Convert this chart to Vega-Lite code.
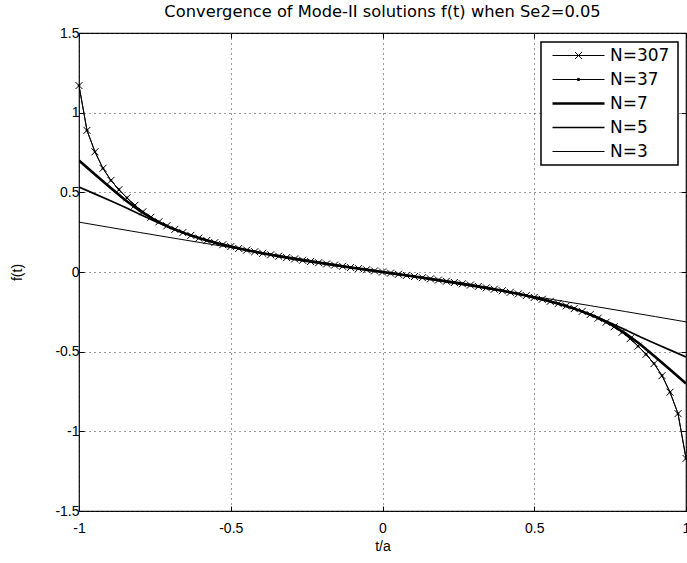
{
  "$schema": "https://vega.github.io/schema/vega-lite/v6.json",
  "width": 607,
  "height": 478,
  "autosize": "none",
  "padding": {"left": 79, "top": 33, "right": 1, "bottom": 52},
  "background": "white",
  "title": {"text": "Convergence of Mode-II solutions f(t) when Se2=0.05", "fontSize": 16.3, "font": "DejaVu Sans", "fontWeight": "normal", "color": "black", "anchor": "middle", "offset": 6},
  "config": {
    "view": {"stroke": "black", "strokeWidth": 1.2},
    "axis": {"labelFont": "Liberation Sans", "titleFont": "Liberation Sans", "labelFontSize": 14, "titleFontSize": 14, "titleFontWeight": "normal", "labelColor": "black", "titleColor": "black", "domain": false, "tickColor": "black", "tickSize": -5, "tickWidth": 1}
  },
  "data": {"values": [
    {"s":"N=307","t":-1,"f":1.17},{"s":"N=307","t":-0.9737,"f":0.889},{"s":"N=307","t":-0.9474,"f":0.7545},{"s":"N=307","t":-0.9211,"f":0.6505},{"s":"N=307","t":-0.8947,"f":0.5749},{"s":"N=307","t":-0.8684,"f":0.5166},{"s":"N=307","t":-0.8421,"f":0.4653},{"s":"N=307","t":-0.8158,"f":0.4189},{"s":"N=307","t":-0.7895,"f":0.3781},{"s":"N=307","t":-0.7632,"f":0.3437},{"s":"N=307","t":-0.7368,"f":0.315},{"s":"N=307","t":-0.7105,"f":0.2898},{"s":"N=307","t":-0.6842,"f":0.2674},{"s":"N=307","t":-0.6579,"f":0.2472},{"s":"N=307","t":-0.6316,"f":0.2297},{"s":"N=307","t":-0.6053,"f":0.2129},{"s":"N=307","t":-0.5789,"f":0.1981},{"s":"N=307","t":-0.5526,"f":0.1843},{"s":"N=307","t":-0.5263,"f":0.1715},{"s":"N=307","t":-0.5,"f":0.1594},{"s":"N=307","t":-0.4737,"f":0.1479},{"s":"N=307","t":-0.4474,"f":0.1376},{"s":"N=307","t":-0.4211,"f":0.1272},{"s":"N=307","t":-0.3947,"f":0.1177},{"s":"N=307","t":-0.3684,"f":0.1082},{"s":"N=307","t":-0.3421,"f":0.0994},{"s":"N=307","t":-0.3158,"f":0.0905},{"s":"N=307","t":-0.2895,"f":0.082},{"s":"N=307","t":-0.2632,"f":0.0737},{"s":"N=307","t":-0.2368,"f":0.0658},{"s":"N=307","t":-0.2105,"f":0.0581},{"s":"N=307","t":-0.1842,"f":0.0506},{"s":"N=307","t":-0.1579,"f":0.0432},{"s":"N=307","t":-0.1316,"f":0.0358},{"s":"N=307","t":-0.1053,"f":0.0286},{"s":"N=307","t":-0.0789,"f":0.0214},{"s":"N=307","t":-0.0526,"f":0.0142},{"s":"N=307","t":-0.0263,"f":0.0071},
    {"s":"N=307","t":0,"f":0},
    {"s":"N=307","t":0.0263,"f":-0.0071},{"s":"N=307","t":0.0526,"f":-0.0142},{"s":"N=307","t":0.0789,"f":-0.0214},{"s":"N=307","t":0.1053,"f":-0.0286},{"s":"N=307","t":0.1316,"f":-0.0358},{"s":"N=307","t":0.1579,"f":-0.0432},{"s":"N=307","t":0.1842,"f":-0.0506},{"s":"N=307","t":0.2105,"f":-0.0581},{"s":"N=307","t":0.2368,"f":-0.0658},{"s":"N=307","t":0.2632,"f":-0.0737},{"s":"N=307","t":0.2895,"f":-0.082},{"s":"N=307","t":0.3158,"f":-0.0905},{"s":"N=307","t":0.3421,"f":-0.0994},{"s":"N=307","t":0.3684,"f":-0.1082},{"s":"N=307","t":0.3947,"f":-0.1177},{"s":"N=307","t":0.4211,"f":-0.1272},{"s":"N=307","t":0.4474,"f":-0.1376},{"s":"N=307","t":0.4737,"f":-0.1479},{"s":"N=307","t":0.5,"f":-0.1594},{"s":"N=307","t":0.5263,"f":-0.1715},{"s":"N=307","t":0.5526,"f":-0.1843},{"s":"N=307","t":0.5789,"f":-0.1981},{"s":"N=307","t":0.6053,"f":-0.2129},{"s":"N=307","t":0.6316,"f":-0.2297},{"s":"N=307","t":0.6579,"f":-0.2472},{"s":"N=307","t":0.6842,"f":-0.2674},{"s":"N=307","t":0.7105,"f":-0.2898},{"s":"N=307","t":0.7368,"f":-0.315},{"s":"N=307","t":0.7632,"f":-0.3437},{"s":"N=307","t":0.7895,"f":-0.3781},{"s":"N=307","t":0.8158,"f":-0.4189},{"s":"N=307","t":0.8421,"f":-0.4653},{"s":"N=307","t":0.8684,"f":-0.5166},{"s":"N=307","t":0.8947,"f":-0.5749},{"s":"N=307","t":0.9211,"f":-0.6505},{"s":"N=307","t":0.9474,"f":-0.7545},{"s":"N=307","t":0.9737,"f":-0.889},{"s":"N=307","t":1,"f":-1.17},

    {"s":"N=37","t":-1,"f":1.17},{"s":"N=37","t":-0.9737,"f":0.889},{"s":"N=37","t":-0.9474,"f":0.7545},{"s":"N=37","t":-0.9211,"f":0.6505},{"s":"N=37","t":-0.8947,"f":0.5749},{"s":"N=37","t":-0.8684,"f":0.5166},{"s":"N=37","t":-0.8421,"f":0.4653},{"s":"N=37","t":-0.8158,"f":0.4189},{"s":"N=37","t":-0.7895,"f":0.3781},{"s":"N=37","t":-0.7632,"f":0.3437},{"s":"N=37","t":-0.7368,"f":0.315},{"s":"N=37","t":-0.7105,"f":0.2898},{"s":"N=37","t":-0.6842,"f":0.2674},{"s":"N=37","t":-0.6579,"f":0.2472},{"s":"N=37","t":-0.6316,"f":0.2297},{"s":"N=37","t":-0.6053,"f":0.2129},{"s":"N=37","t":-0.5789,"f":0.1981},{"s":"N=37","t":-0.5526,"f":0.1843},{"s":"N=37","t":-0.5263,"f":0.1715},{"s":"N=37","t":-0.5,"f":0.1594},{"s":"N=37","t":-0.4737,"f":0.1479},{"s":"N=37","t":-0.4474,"f":0.1376},{"s":"N=37","t":-0.4211,"f":0.1272},{"s":"N=37","t":-0.3947,"f":0.1177},{"s":"N=37","t":-0.3684,"f":0.1082},{"s":"N=37","t":-0.3421,"f":0.0994},{"s":"N=37","t":-0.3158,"f":0.0905},{"s":"N=37","t":-0.2895,"f":0.082},{"s":"N=37","t":-0.2632,"f":0.0737},{"s":"N=37","t":-0.2368,"f":0.0658},{"s":"N=37","t":-0.2105,"f":0.0581},{"s":"N=37","t":-0.1842,"f":0.0506},{"s":"N=37","t":-0.1579,"f":0.0432},{"s":"N=37","t":-0.1316,"f":0.0358},{"s":"N=37","t":-0.1053,"f":0.0286},{"s":"N=37","t":-0.0789,"f":0.0214},{"s":"N=37","t":-0.0526,"f":0.0142},{"s":"N=37","t":-0.0263,"f":0.0071},
    {"s":"N=37","t":0,"f":0},
    {"s":"N=37","t":0.0263,"f":-0.0071},{"s":"N=37","t":0.0526,"f":-0.0142},{"s":"N=37","t":0.0789,"f":-0.0214},{"s":"N=37","t":0.1053,"f":-0.0286},{"s":"N=37","t":0.1316,"f":-0.0358},{"s":"N=37","t":0.1579,"f":-0.0432},{"s":"N=37","t":0.1842,"f":-0.0506},{"s":"N=37","t":0.2105,"f":-0.0581},{"s":"N=37","t":0.2368,"f":-0.0658},{"s":"N=37","t":0.2632,"f":-0.0737},{"s":"N=37","t":0.2895,"f":-0.082},{"s":"N=37","t":0.3158,"f":-0.0905},{"s":"N=37","t":0.3421,"f":-0.0994},{"s":"N=37","t":0.3684,"f":-0.1082},{"s":"N=37","t":0.3947,"f":-0.1177},{"s":"N=37","t":0.4211,"f":-0.1272},{"s":"N=37","t":0.4474,"f":-0.1376},{"s":"N=37","t":0.4737,"f":-0.1479},{"s":"N=37","t":0.5,"f":-0.1594},{"s":"N=37","t":0.5263,"f":-0.1715},{"s":"N=37","t":0.5526,"f":-0.1843},{"s":"N=37","t":0.5789,"f":-0.1981},{"s":"N=37","t":0.6053,"f":-0.2129},{"s":"N=37","t":0.6316,"f":-0.2297},{"s":"N=37","t":0.6579,"f":-0.2472},{"s":"N=37","t":0.6842,"f":-0.2674},{"s":"N=37","t":0.7105,"f":-0.2898},{"s":"N=37","t":0.7368,"f":-0.315},{"s":"N=37","t":0.7632,"f":-0.3437},{"s":"N=37","t":0.7895,"f":-0.3781},{"s":"N=37","t":0.8158,"f":-0.4189},{"s":"N=37","t":0.8421,"f":-0.4653},{"s":"N=37","t":0.8684,"f":-0.5166},{"s":"N=37","t":0.8947,"f":-0.5749},{"s":"N=37","t":0.9211,"f":-0.6505},{"s":"N=37","t":0.9474,"f":-0.7545},{"s":"N=37","t":0.9737,"f":-0.889},{"s":"N=37","t":1,"f":-1.17},

    {"s":"N=7","t":-1,"f":0.70},{"s":"N=7","t":-0.95,"f":0.617},{"s":"N=7","t":-0.9,"f":0.535},{"s":"N=7","t":-0.85,"f":0.455},{"s":"N=7","t":-0.8,"f":0.385},{"s":"N=7","t":-0.75,"f":0.325},{"s":"N=7","t":-0.7,"f":0.2795},{"s":"N=7","t":-0.65,"f":0.2425},{"s":"N=7","t":-0.6,"f":0.2108},{"s":"N=7","t":-0.55,"f":0.1831},{"s":"N=7","t":-0.5,"f":0.1594},{"s":"N=7","t":-0.45,"f":0.1386},{"s":"N=7","t":-0.4,"f":0.1191},{"s":"N=7","t":-0.35,"f":0.1016},{"s":"N=7","t":-0.3,"f":0.0852},{"s":"N=7","t":-0.25,"f":0.0697},{"s":"N=7","t":-0.2,"f":0.0551},{"s":"N=7","t":-0.15,"f":0.041},{"s":"N=7","t":-0.1,"f":0.0271},{"s":"N=7","t":-0.05,"f":0.0135},
    {"s":"N=7","t":0,"f":0},
    {"s":"N=7","t":0.05,"f":-0.0135},{"s":"N=7","t":0.1,"f":-0.0271},{"s":"N=7","t":0.15,"f":-0.041},{"s":"N=7","t":0.2,"f":-0.0551},{"s":"N=7","t":0.25,"f":-0.0697},{"s":"N=7","t":0.3,"f":-0.0852},{"s":"N=7","t":0.35,"f":-0.1016},{"s":"N=7","t":0.4,"f":-0.1191},{"s":"N=7","t":0.45,"f":-0.1386},{"s":"N=7","t":0.5,"f":-0.1594},{"s":"N=7","t":0.55,"f":-0.1831},{"s":"N=7","t":0.6,"f":-0.2108},{"s":"N=7","t":0.65,"f":-0.2425},{"s":"N=7","t":0.7,"f":-0.2795},{"s":"N=7","t":0.75,"f":-0.325},{"s":"N=7","t":0.8,"f":-0.385},{"s":"N=7","t":0.85,"f":-0.455},{"s":"N=7","t":0.9,"f":-0.535},{"s":"N=7","t":0.95,"f":-0.617},{"s":"N=7","t":1,"f":-0.70},

    {"s":"N=5","t":-1,"f":0.533},{"s":"N=5","t":-0.95,"f":0.492},{"s":"N=5","t":-0.9,"f":0.45},{"s":"N=5","t":-0.85,"f":0.408},{"s":"N=5","t":-0.8,"f":0.362},{"s":"N=5","t":-0.75,"f":0.318},{"s":"N=5","t":-0.7,"f":0.278},{"s":"N=5","t":-0.65,"f":0.2415},{"s":"N=5","t":-0.6,"f":0.2108},{"s":"N=5","t":-0.55,"f":0.1831},{"s":"N=5","t":-0.5,"f":0.1594},{"s":"N=5","t":-0.45,"f":0.1386},{"s":"N=5","t":-0.4,"f":0.1191},{"s":"N=5","t":-0.35,"f":0.1016},{"s":"N=5","t":-0.3,"f":0.0852},{"s":"N=5","t":-0.25,"f":0.0697},{"s":"N=5","t":-0.2,"f":0.0551},{"s":"N=5","t":-0.15,"f":0.041},{"s":"N=5","t":-0.1,"f":0.0271},{"s":"N=5","t":-0.05,"f":0.0135},
    {"s":"N=5","t":0,"f":0},
    {"s":"N=5","t":0.05,"f":-0.0135},{"s":"N=5","t":0.1,"f":-0.0271},{"s":"N=5","t":0.15,"f":-0.041},{"s":"N=5","t":0.2,"f":-0.0551},{"s":"N=5","t":0.25,"f":-0.0697},{"s":"N=5","t":0.3,"f":-0.0852},{"s":"N=5","t":0.35,"f":-0.1016},{"s":"N=5","t":0.4,"f":-0.1191},{"s":"N=5","t":0.45,"f":-0.1386},{"s":"N=5","t":0.5,"f":-0.1594},{"s":"N=5","t":0.55,"f":-0.1831},{"s":"N=5","t":0.6,"f":-0.2108},{"s":"N=5","t":0.65,"f":-0.2415},{"s":"N=5","t":0.7,"f":-0.278},{"s":"N=5","t":0.75,"f":-0.318},{"s":"N=5","t":0.8,"f":-0.362},{"s":"N=5","t":0.85,"f":-0.408},{"s":"N=5","t":0.9,"f":-0.45},{"s":"N=5","t":0.95,"f":-0.492},{"s":"N=5","t":1,"f":-0.533},

    {"s":"N=3","t":-1,"f":0.313},{"s":"N=3","t":-0.9,"f":0.2803},{"s":"N=3","t":-0.8,"f":0.2481},{"s":"N=3","t":-0.7,"f":0.2162},{"s":"N=3","t":-0.6,"f":0.1847},{"s":"N=3","t":-0.5,"f":0.1535},{"s":"N=3","t":-0.4,"f":0.1225},{"s":"N=3","t":-0.3,"f":0.0917},{"s":"N=3","t":-0.2,"f":0.0611},{"s":"N=3","t":-0.1,"f":0.0305},
    {"s":"N=3","t":0,"f":0},
    {"s":"N=3","t":0.1,"f":-0.0305},{"s":"N=3","t":0.2,"f":-0.0611},{"s":"N=3","t":0.3,"f":-0.0917},{"s":"N=3","t":0.4,"f":-0.1225},{"s":"N=3","t":0.5,"f":-0.1535},{"s":"N=3","t":0.6,"f":-0.1847},{"s":"N=3","t":0.7,"f":-0.2162},{"s":"N=3","t":0.8,"f":-0.2481},{"s":"N=3","t":0.9,"f":-0.2803},{"s":"N=3","t":1,"f":-0.313}
  ]},
  "layer": [
    {
      "mark": {"type": "line", "clip": true, "color": "black"},
      "encoding": {
        "x": {"field": "t", "type": "quantitative", "scale": {"domain": [-1, 1], "nice": false, "zero": false},
              "axis": {"orient": "bottom", "values": [-1, -0.5, 0, 0.5, 1], "labelExpr": "'' + datum.value", "title": "t/a", "grid": true, "gridColor": "#333", "gridDash": [1, 4], "gridWidth": 1, "labelFlush": false, "labelPadding": 15, "titlePadding": 4}},
        "y": {"field": "f", "type": "quantitative", "scale": {"domain": [-1.5, 1.5], "nice": false, "zero": false},
              "axis": {"orient": "left", "values": [-1.5, -1, -0.5, 0, 0.5, 1, 1.5], "labelExpr": "'' + datum.value", "title": "f(t)", "grid": true, "gridColor": "#333", "gridDash": [1, 4], "gridWidth": 1, "labelFlush": false, "labelPadding": 5, "titlePadding": 30}},
        "detail": {"field": "s", "type": "nominal"},
        "strokeWidth": {"field": "s", "type": "nominal",
                  "scale": {"type": "ordinal", "domain": ["N=307", "N=37", "N=7", "N=5", "N=3"], "range": [1, 1, 2.6, 1.7, 1]},
                  "legend": {"title": " ", "titleOrient": "right", "titlePadding": 4, "titleFont": "DejaVu Sans", "titleFontSize": 17,
                             "orient": "none", "legendX": 462, "legendY": 9, "strokeColor": "black", "fillColor": "white", "padding": 5, "cornerRadius": 0,
                             "labelFont": "DejaVu Sans", "labelFontSize": 17, "labelColor": "black", "labelOffset": 47, "rowPadding": 6,
                             "symbolType": "stroke", "symbolSize": 196, "symbolStrokeColor": "black",
                             "encode": {
                               "legend": {"update": {"strokeWidth": {"value": 1.5}}},
                               "symbols": {"update": {
                               "shape": {"signal": "datum.value === 'N=307' ? 'M-0.2857,0L7.1429,0M2.9286,-0.5L3.9286,0.5M2.9286,0.5L3.9286,-0.5' : datum.value === 'N=37' ? 'M-0.2857,0L7.1429,0M3.2786,-0.15L3.5786,-0.15L3.5786,0.15L3.2786,0.15Z' : 'M-0.2857,0L7.1429,0'"},
                               "stroke": {"value": "black"}}}}}}
      }
    },
    {
      "transform": [{"filter": "datum.s === 'N=307'"}],
      "mark": {"type": "point", "shape": "M-1,-1L1,1M-1,1L1,-1", "size": 49, "filled": false, "stroke": "black", "strokeWidth": 1, "opacity": 1},
      "encoding": {
        "x": {"field": "t", "type": "quantitative", "axis": {"orient": "top", "values": [-1, -0.5, 0, 0.5, 1], "labels": false, "title": null, "grid": false}},
        "y": {"field": "f", "type": "quantitative", "axis": {"orient": "right", "values": [-1.5, -1, -0.5, 0, 0.5, 1, 1.5], "labels": false, "title": null, "grid": false}}
      }
    },
    {
      "transform": [{"filter": "datum.s === 'N=37'"}],
      "mark": {"type": "point", "shape": "circle", "size": 7, "filled": true, "color": "black", "opacity": 1},
      "encoding": {
        "x": {"field": "t", "type": "quantitative", "axis": null},
        "y": {"field": "f", "type": "quantitative", "axis": null}
      }
    }
  ],
  "resolve": {"axis": {"x": "independent", "y": "independent"}}
}
